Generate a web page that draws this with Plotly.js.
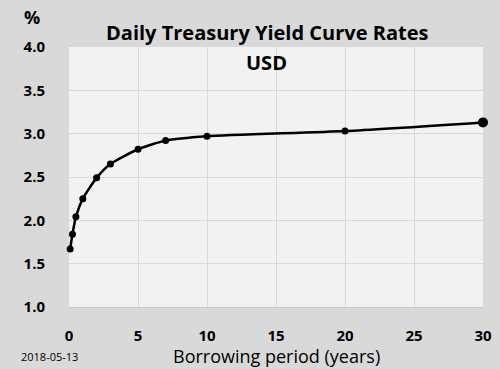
<!DOCTYPE html>
<html>
<head>
<meta charset="utf-8">
<script src="https://cdn.plot.ly/plotly-3.0.1.min.js"></script>
<style>html,body{margin:0;padding:0;background:#d9d9d9;}#chart{width:500px;height:369px;}</style>
</head>
<body>
<div id="chart"></div>
<script>
const maturities = [1/12, 0.25, 0.5, 1, 2, 3, 5, 7, 10, 20, 30];
const yields = [1.67, 1.84, 2.04, 2.25, 2.49, 2.65, 2.82, 2.92, 2.97, 3.03, 3.13];
const xTicks = [0, 5, 10, 15, 20, 25, 30];
const yTicks = [1.0, 1.5, 2.0, 2.5, 3.0, 3.5, 4.0];
const titleLines = ['Daily Treasury Yield Curve Rates', 'USD'];
const xTitle = 'Borrowing period (years)';
const yUnit = '%';
const dateLabel = '2018-05-13';

const markerSizes = maturities.map((m, i) => i === maturities.length - 1 ? 10 : 7);

const trace = {
  x: maturities, y: yields, type: 'scatter', mode: 'lines+markers',
  line: {color: '#000000', width: 2.5, shape: 'spline', smoothing: 0.6},
  marker: {color: '#000000', size: markerSizes, opacity: 1, line: {width: 0}},
  cliponaxis: false, hoverinfo: 'skip'
};

const font = 'Open Sans, Liberation Sans, sans-serif';
const layout = {
  width: 500, height: 369,
  paper_bgcolor: '#d9d9d9', plot_bgcolor: '#f2f2f2',
  margin: {l: 69, r: 17, t: 47, b: 62},
  showlegend: false,
  font: {family: font, color: '#000'},
  xaxis: {
    range: [0, 30], tickvals: xTicks, ticktext: xTicks.map(String),
    showgrid: true, gridcolor: '#d9d9d9', gridwidth: 1,
    zeroline: false, showline: true, linecolor: '#c8c8c8', linewidth: 1,
    ticks: '', ticklabelstandoff: 15, tickfont: {size: 15, family: font, weight: 'bold'}
  },
  yaxis: {
    range: [1.0, 4.0], tickvals: yTicks, ticktext: yTicks.map(v => v.toFixed(1)),
    showgrid: true, gridcolor: '#d9d9d9', gridwidth: 1,
    zeroline: false, showline: false,
    ticks: '', ticklabelstandoff: 23, tickfont: {size: 15, family: font, weight: 'bold'}
  },
  annotations: [
    {text: titleLines[0], xref: 'paper', yref: 'paper', x: 0.478, y: 1.054, xanchor: 'center', yanchor: 'middle',
     showarrow: false, font: {size: 20, family: font, weight: 'bold'}},
    {text: titleLines[1], xref: 'paper', yref: 'paper', x: 0.478, y: 0.942, xanchor: 'center', yanchor: 'middle',
     showarrow: false, font: {size: 20, family: font, weight: 'bold'}},
    {text: yUnit, xref: 'paper', yref: 'paper', x: -0.09, y: 1.115, xanchor: 'center', yanchor: 'middle',
     showarrow: false, font: {size: 18, family: font, weight: 'bold'}},
    {text: xTitle, xref: 'paper', yref: 'paper', x: 0.5, y: -0.19, xanchor: 'center', yanchor: 'middle',
     showarrow: false, font: {size: 18, family: font}},
    {text: dateLabel, xref: 'paper', yref: 'paper', x: -0.12, y: -0.19, xanchor: 'left', yanchor: 'middle',
     showarrow: false, font: {size: 11, family: font}}
  ]
};

Plotly.newPlot('chart', [trace], layout, {displayModeBar: false, staticPlot: true});
</script>
</body>
</html>
